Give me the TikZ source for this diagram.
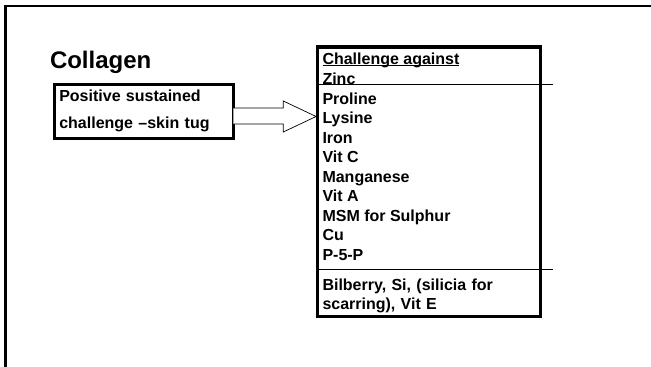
\documentclass[tikz,border=0pt]{standalone}
\usepackage{fontspec}
\setmainfont{Liberation Sans}
\usetikzlibrary{positioning,calc}
\usepackage{xcolor}
\definecolor{Ink}{HTML}{000000}
\tikzset{
 frame/.style={draw=Ink, line width=2.4pt},
 box/.style={draw=Ink, line width=3.2pt, fill=white, inner sep=0pt, outer sep=0pt},
 item/.style={anchor=base west, inner sep=0pt, outer sep=0pt, font=\fontsize{16}{19.5}\selectfont\bfseries},
 divider/.style={draw=Ink, line width=0.9pt},
 blockarrow/.style={draw=Ink, line width=0.7pt, fill=white, line join=miter}
}

\begin{document}
\begin{tikzpicture}[x=1pt,y=-1pt]
\useasboundingbox (0,0) rectangle (651,367);
\draw[frame] (5.3,367) -- (5.3,6.2) -- (651,6.2);
\node[item,font=\fontsize{24}{28}\selectfont\bfseries] (title) at (50,68) {Collagen};
\node[box,minimum width=179pt,minimum height=54pt,anchor=north west,text width=169pt,align=left,
 font=\fontsize{16}{27}\selectfont\bfseries] (tug) at (54.3,84.3) {Positive sustained\\challenge --skin tug};
\node[box,minimum width=222.8pt,minimum height=269.7pt,anchor=north west] (against) at (317.7,47) {};
% list inside the box
\node[item] (head) at (322.5,64) {Challenge against};
\draw[line width=1.3pt] ($(head.base west)+(0,1.6)$) -- ($(head.base east)+(0,1.6)$);
\foreach \name [count=\i] in {Zinc,Proline,Lysine,Iron,Vit C,Manganese,Vit A,MSM for Sulphur,Cu,P-5-P}
 \node[item] (item\i) at (322.5,65+19.5*\i) {\name};
\node[item,text width=215pt,align=left] (extra) at (322.5,290) {Bilberry, Si, (silicia for\\scarring), Vit E};
\draw[divider] ($(against.north west)+(0,37)$) -- ++(235,0);
\draw[divider] ($(against.north west)+(0,222)$) -- ++(235,0);
% block arrow
\coordinate (neck) at ($(tug.east)+(50,0)$);
\draw[blockarrow] ($(tug.east)+(0,-3.3)$) -- ($(neck)+(0,-3.3)$) -- ($(neck)+(0,-10.3)$)
 -- ($(against.west |- tug.east)+(-1.6,5.2)$) -- ($(neck)+(0,20.7)$) -- ($(neck)+(0,12.7)$)
 -- ($(tug.east)+(0,12.7)$);
\end{tikzpicture}
\end{document}
